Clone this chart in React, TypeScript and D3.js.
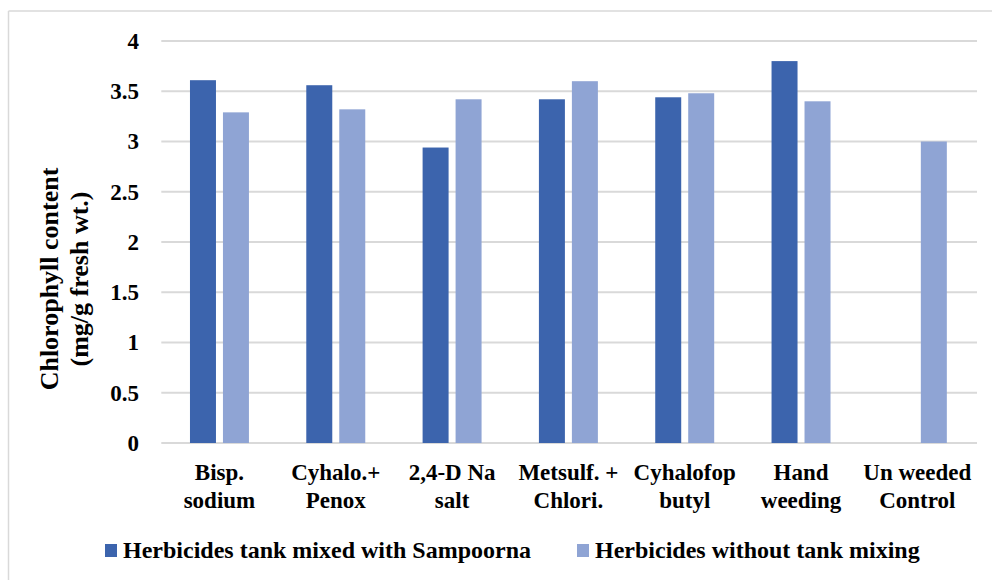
import * as d3 from 'd3';

const categories = [
  ['Bisp.', 'sodium'],
  ['Cyhalo.+', 'Penox'],
  ['2,4-D Na', 'salt'],
  ['Metsulf. +', 'Chlori.'],
  ['Cyhalofop', 'butyl'],
  ['Hand', 'weeding'],
  ['Un weeded', 'Control'],
];
const seriesNames = ['Herbicides tank mixed with Sampoorna', 'Herbicides without tank mixing'];
const seriesColors = ['#3C64AD', '#8FA4D4'];
const tankMixed: (number | null)[] = [3.61, 3.56, 2.94, 3.42, 3.44, 3.80, null];
const withoutMixing: (number | null)[] = [3.29, 3.32, 3.42, 3.60, 3.48, 3.40, 3.00];
const yTicks = [0, 0.5, 1, 1.5, 2, 2.5, 3, 3.5, 4];
const yTitle = ['Chlorophyll content', '(mg/g fresh wt.)'];

const W = 992;
const H = 580;
const FONT = "'Liberation Serif', 'DejaVu Serif', serif";
const txt = { fontFamily: FONT, fontWeight: 700 };

export default function App() {
  const keys = categories.map(c => c.join(' '));
  const x0 = d3.scaleBand<string>()
    .domain(keys)
    .range([161.3, 975.5])
    .paddingInner(0.493)
    .paddingOuter(0.2465);
  const x1 = d3.scaleBand<number>()
    .domain([0, 1])
    .range([0, x0.bandwidth()])
    .paddingInner(0.212);
  const y = d3.scaleLinear().domain([0, 4]).range([443, 41]);
  const values = [tankMixed, withoutMixing];

  return (
    <div style={{ position: 'absolute', left: 0, top: 0 }}>
      <svg width={W} height={H} style={{ display: 'block', background: '#fff' }}>
        {/* outer chart border (only top + left visible) */}
        <line x1={8.5} x2={W} y1={11} y2={11} stroke="#d9d9d9" strokeWidth={1.5} />
        <line x1={8.5} x2={8.5} y1={11} y2={H} stroke="#d9d9d9" strokeWidth={1.5} />

        {/* gridlines */}
        {yTicks.map(t => (
          <line key={t} x1={161.3} x2={977} y1={y(t)} y2={y(t)}
            stroke="#d9d9d9" strokeWidth={2} />
        ))}

        {/* y tick labels */}
        {yTicks.map(t => (
          <text key={'l' + t} x={139} y={y(t)} dy="0.34em" textAnchor="end"
            style={txt} fontSize={23} fill="#000">
            {String(t)}
          </text>
        ))}

        {/* y title */}
        {yTitle.map((s, i) => (
          <text key={s} transform={`translate(${58 + i * 30},279) rotate(-90)`}
            textAnchor="middle" style={txt} fontSize={26} fill="#000">
            {s}
          </text>
        ))}

        {/* bars */}
        {keys.map((k, ci) => (
          <g key={k} transform={`translate(${x0(k)},0)`}>
            {values.map((vals, si) => {
              const v = vals[ci];
              if (v == null) return null;
              return (
                <rect key={si} x={x1(si)} y={y(v)} width={x1.bandwidth()}
                  height={y(0) - y(v)} fill={seriesColors[si]} />
              );
            })}
          </g>
        ))}

        {/* category labels */}
        {categories.map((c, ci) => {
          const cx = (x0(keys[ci]) ?? 0) + x0.bandwidth() / 2;
          return (
            <text key={ci} x={cx} y={480} textAnchor="middle"
              style={txt} fontSize={23} fill="#000">
              <tspan x={cx}>{c[0]}</tspan>
              <tspan x={cx} y={507.5}>{c[1]}</tspan>
            </text>
          );
        })}

        {/* legend */}
        {seriesNames.map((s, i) => {
          const lx = i === 0 ? 105 : 577;
          return (
            <g key={s}>
              <rect x={lx} y={544} width={12} height={13} fill={seriesColors[i]} />
              <text x={lx + 18} y={557.5} style={txt} fontSize={24} fill="#000">{s}</text>
            </g>
          );
        })}
      </svg>
    </div>
  );
}
